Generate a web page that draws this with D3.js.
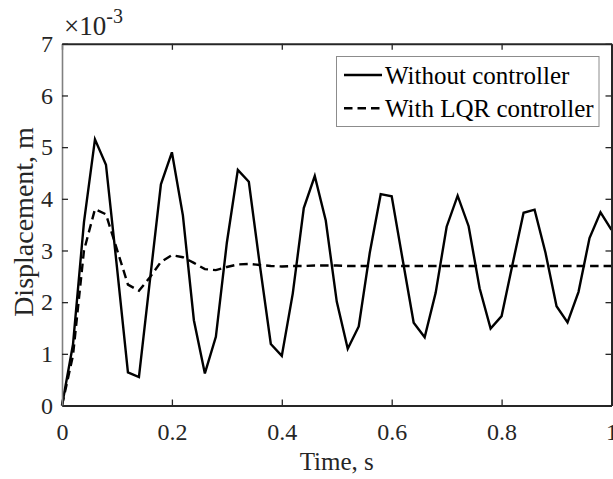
<!DOCTYPE html>
<html>
<head>
<meta charset="utf-8">
<script src="https://cdn.jsdelivr.net/npm/d3@7"></script>
<style>
  body { margin: 0; background: #fff; }
  svg text { font-family: "Liberation Serif", "Times New Roman", serif; }
</style>
</head>
<body>
<svg id="chart" width="613" height="479" font-family="Liberation Serif"></svg>
<script>
// time samples, s
const times = [0, 0.02, 0.04, 0.06, 0.08, 0.10, 0.12, 0.14, 0.16, 0.18,
  0.20, 0.22, 0.24, 0.26, 0.28, 0.30, 0.32, 0.34, 0.36, 0.38,
  0.40, 0.42, 0.44, 0.46, 0.48, 0.50, 0.52, 0.54, 0.56, 0.58,
  0.60, 0.62, 0.64, 0.66, 0.68, 0.70, 0.72, 0.74, 0.76, 0.78,
  0.80, 0.82, 0.84, 0.86, 0.88, 0.90, 0.92, 0.94, 0.96, 0.98, 1.00];

// displacement x 1e-3 m
const withoutController = [0, 1.18, 3.55, 5.15, 4.66, 2.68, 0.64, 0.55, 2.42, 4.28,
  4.90, 3.68, 1.65, 0.62, 1.33, 3.15, 4.56, 4.33, 2.72, 1.19,
  0.96, 2.17, 3.82, 4.44, 3.58, 2.01, 1.10, 1.53, 2.95, 4.09,
  4.05, 2.82, 1.60, 1.32, 2.18, 3.46, 4.06, 3.47, 2.27, 1.49,
  1.73, 2.74, 3.73, 3.79, 2.95, 1.92, 1.61, 2.20, 3.24, 3.74, 3.40];

const withLQR = [0, 0.97, 3.0, 3.8, 3.7, 3.02, 2.34, 2.22, 2.48, 2.78,
  2.91, 2.87, 2.76, 2.64, 2.62, 2.68, 2.73, 2.74, 2.72, 2.70,
  2.69, 2.70, 2.70, 2.71, 2.71, 2.71, 2.70, 2.70, 2.70, 2.70,
  2.70, 2.70, 2.70, 2.70, 2.70, 2.70, 2.70, 2.70, 2.70, 2.70,
  2.70, 2.70, 2.70, 2.70, 2.70, 2.70, 2.70, 2.70, 2.70, 2.70, 2.70];

const xTicks = [0, 0.2, 0.4, 0.6, 0.8, 1];
const xTickLabels = ["0", "0.2", "0.4", "0.6", "0.8", "1"];
const yTicks = [0, 1, 2, 3, 4, 5, 6, 7];
const yTickLabels = ["0", "1", "2", "3", "4", "5", "6", "7"];

const seriesNames = ["Without controller", "With LQR controller"];

const plotLeft = 62, plotRight = 611.5, plotTop = 43.8, plotBottom = 405.5;
const ink = "#262626";
const serif = "Liberation Serif, Times New Roman, serif";

const svg = d3.select("#chart");

const x = d3.scaleLinear().domain([0, 1]).range([plotLeft, plotRight]);
const y = d3.scaleLinear().domain([0, 7]).range([plotBottom, plotTop]);

const line = d3.line()
  .x((d, i) => x(times[i]))
  .y(d => y(d));

// lines first, axes drawn on top
svg.append("path")
  .datum(withoutController)
  .attr("d", line)
  .attr("fill", "none")
  .attr("stroke", "#000")
  .attr("stroke-width", 2.4);

svg.append("path")
  .datum(withLQR)
  .attr("d", line)
  .attr("fill", "none")
  .attr("stroke", "#000")
  .attr("stroke-width", 2.4)
  .attr("stroke-dasharray", "8.5,5");

// axes with inward ticks
function styleAxis(g)
{
  g.attr("font-family", serif);
  g.select(".domain").attr("stroke", ink).attr("stroke-width", 2);
  g.selectAll(".tick line").attr("stroke", ink).attr("stroke-width", 1.3);
  g.selectAll(".tick text")
    .attr("fill", ink)
    .attr("font-size", 24);
}

svg.append("g")
  .attr("transform", `translate(0,${plotBottom})`)
  .call(d3.axisBottom(x).tickValues(xTicks).tickFormat((d, i) => xTickLabels[i])
    .tickSizeInner(-6).tickSizeOuter(0).tickPadding(17))
  .call(styleAxis);

svg.append("g")
  .attr("transform", `translate(0,${plotTop})`)
  .call(d3.axisTop(x).tickValues(xTicks).tickFormat("")
    .tickSizeInner(-6).tickSizeOuter(0))
  .call(styleAxis);

svg.append("g")
  .attr("transform", `translate(${plotLeft},0)`)
  .call(d3.axisLeft(y).tickValues(yTicks).tickFormat((d, i) => yTickLabels[i])
    .tickSizeInner(-6).tickSizeOuter(0).tickPadding(9))
  .call(styleAxis)
  .call(g => g.select(".domain").attr("stroke", "#808080").attr("stroke-width", 1.6));

svg.append("g")
  .attr("transform", `translate(${plotRight},0)`)
  .call(d3.axisRight(y).tickValues(yTicks).tickFormat("")
    .tickSizeInner(-6).tickSizeOuter(0))
  .call(styleAxis);

// exponent label
const expo = svg.append("text")
  .attr("x", plotLeft + 2)
  .attr("y", 35)
  .attr("fill", ink)
  .attr("font-size", 27);
expo.append("tspan").text("\u00d710");
expo.append("tspan").attr("font-size", 20).attr("dy", -12).text("-3");

// axis titles
svg.append("text")
  .attr("x", (plotLeft + plotRight) / 2)
  .attr("y", 470)
  .attr("text-anchor", "middle")
  .attr("fill", ink)
  .attr("font-size", 25)
  .text("Time, s");

svg.append("text")
  .attr("transform", `translate(33,222) rotate(-90)`)
  .attr("text-anchor", "middle")
  .attr("fill", ink)
  .attr("font-size", 28)
  .text("Displacement, m");

// legend
const legend = svg.append("g");
legend.append("rect")
  .attr("x", 336.5).attr("y", 56.5)
  .attr("width", 262.5).attr("height", 70)
  .attr("fill", "#fff")
  .attr("stroke", "#8c8c8c")
  .attr("stroke-width", 1);

seriesNames.forEach((name, i) =>
{
  const cy = 75 + i * 33.3;
  legend.append("line")
    .attr("x1", 344).attr("x2", 382)
    .attr("y1", cy).attr("y2", cy)
    .attr("stroke", "#000")
    .attr("stroke-width", 2.4)
    .attr("stroke-dasharray", i === 1 ? "8.5,5" : null);
  legend.append("text")
    .attr("x", 385)
    .attr("y", cy + 8.5)
    .attr("fill", "#000")
    .attr("font-size", 25)
    .text(name);
});
</script>
</body>
</html>
